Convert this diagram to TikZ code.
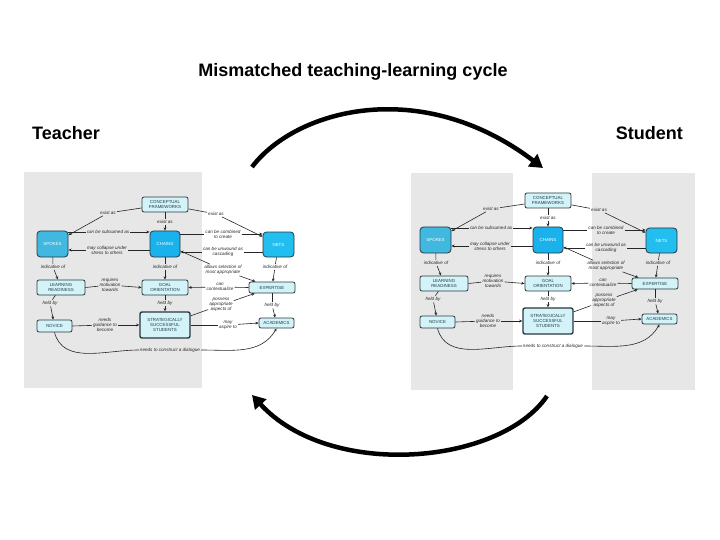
\documentclass[tikz,border=0pt]{standalone}
\usepackage{fontspec}
\setmainfont{Liberation Sans}
\usetikzlibrary{arrows.meta}
\definecolor{bggrey}{RGB}{231,231,231}
\definecolor{pale}{RGB}{212,243,248}
\definecolor{spk}{RGB}{64,184,224}
\definecolor{chn}{RGB}{26,178,236}
\definecolor{nts}{RGB}{34,190,240}
\definecolor{bord}{RGB}{40,56,64}
\definecolor{ntext}{RGB}{30,60,75}
\newcommand{\nfont}{\fontsize{4.4}{4.9}\selectfont}
\newcommand{\lfont}{\fontsize{4.6}{5.0}\selectfont\itshape}
\tikzset{
 concept/.style={draw=bord, line width=0.8pt, rounded corners=2pt, fill=pale, text=ntext, font=\nfont, align=center, inner sep=0pt},
 hub/.style={concept, rounded corners=3.5pt, text=white},
 lbl/.style={font=\lfont, align=center, inner sep=1pt, text=black!85},
 link/.style={line width=0.6pt, draw=black!85},
 larr/.style={link, -{Stealth[length=3.2pt,width=2.8pt]}},
 bigarc/.style={line width=4.5pt, -{Triangle[length=13pt,width=15pt]}},
 heading/.style={font=\fontsize{18}{21}\selectfont\bfseries, inner sep=0pt}
}
\newcommand{\conceptmap}[3]{%
\begin{scope}[shift={(#2,#3)}]
 \node[concept, minimum width=46pt, minimum height=15pt] (#1cf) at (165,204.5) {CONCEPTUAL\\FRAMEWORKS};
 \node[hub, fill=spk, minimum width=31pt, minimum height=26pt] (#1sp) at (52.5,244) {SPOKES};
 \node[hub, fill=chn, minimum width=30pt, minimum height=26pt] (#1ch) at (165,244) {CHAINS};
 \node[hub, fill=nts, minimum width=31pt, minimum height=25pt] (#1nt) at (278.5,244.5) {NETS};
 \node[concept, minimum width=48pt, minimum height=15pt] (#1lr) at (61,287.5) {LEARNING\\READINESS};
 \node[concept, minimum width=46pt, minimum height=15pt] (#1go) at (165,287.5) {GOAL\\ORIENTATION};
 \node[concept, minimum width=46pt, minimum height=11pt] (#1ex) at (272,287.5) {EXPERTISE};
 \node[concept, minimum width=35pt, minimum height=12pt] (#1nv) at (54.5,326) {NOVICE};
 \node[concept, line width=1.4pt, minimum width=50pt, minimum height=26pt] (#1ss) at (165,325) {STRATEGICALLY\\SUCCESSFUL\\STUDENTS};
 \node[concept, minimum width=35pt, minimum height=10pt] (#1wk) at (276.5,323) {ACADEMICS};
 \node[lbl] (#1l1) at (108,213) {exist as};
 \node[lbl] (#1l2) at (165,222) {exist as};
 \node[lbl] (#1l3) at (216,214) {exist as};
 \node[lbl] (#1l4) at (108,232) {can be subsumed as};
 \node[lbl] (#1l5) at (107,250) {may collapse under\\stress to others};
 \node[lbl] (#1l6) at (223,234) {can be combined\\to create};
 \node[lbl] (#1l7) at (223,252) {can be unwound as\\cascading};
 \node[lbl] (#1l8) at (223,270) {allows selection of\\most appropriate};
 \node[lbl] (#1l9) at (53,267) {indicative of};
 \node[lbl] (#1l10) at (165,267) {indicative of};
 \node[lbl] (#1l11) at (275,267) {indicative of};
 \node[lbl] (#1l12) at (110,285) {requires\\motivation\\towards};
 \node[lbl] (#1l13) at (220,287) {can\\contextualize};
 \node[lbl] (#1l14) at (221,305) {possess\\appropriate\\aspects of};
 \node[lbl] (#1l15) at (50,303) {held by};
 \node[lbl] (#1l16) at (165,303) {held by};
 \node[lbl] (#1l17) at (272,305) {held by};
 \node[lbl] (#1l18) at (105,325) {needs\\guidance to\\become};
 \node[lbl] (#1l19) at (228,325) {may\\aspire to};
 \node[lbl] (#1l20) at (170,350) {needs to construct a dialogue};
 \draw[link] (#1cf) -- (#1l1); \draw[larr] (#1l1) -- (#1sp);
 \draw[link] (#1cf) -- (#1l2); \draw[larr] (#1l2) -- (#1ch);
 \draw[link] (#1cf) -- (#1l3); \draw[larr] (#1l3) -- (#1nt);
 \draw[link] (#1sp.east |- #1l4) -- (#1l4); \draw[larr] (#1l4) -- (#1ch.west |- #1l4);
 \draw[link] (#1ch.west |- #1l5) -- (#1l5); \draw[larr] (#1l5) -- (#1sp.east |- #1l5);
 \draw[link] (#1ch.east |- #1l6) -- (#1l6); \draw[larr] (#1l6) -- (#1nt.west |- #1l6);
 \draw[link] (#1nt.west |- #1l7) -- (#1l7); \draw[larr] (#1l7) -- (#1ch.east |- #1l7);
 \draw[link] (#1ch) -- (#1l8); \draw[larr] (#1l8) -- (#1ex);
 \draw[link] (#1sp) -- (#1l9); \draw[larr] (#1l9) -- (#1lr);
 \draw[link] (#1ch) -- (#1l10); \draw[larr] (#1l10) -- (#1go);
 \draw[link] (#1nt) -- (#1l11); \draw[larr] (#1l11) -- (#1ex);
 \draw[link] (#1lr.east) -- (#1l12); \draw[larr] (#1l12) -- (#1go.west);
 \draw[link] (#1ex.west) -- (#1l13); \draw[larr] (#1l13) -- (#1go.east);
 \draw[link] (#1ss) -- (#1l14); \draw[larr] (#1l14) -- (#1ex);
 \draw[link] (#1lr) -- (#1l15); \draw[larr] (#1l15) -- (#1nv);
 \draw[link] (#1go) -- (#1l16); \draw[larr] (#1l16) -- (#1ss);
 \draw[link] (#1ex) -- (#1l17); \draw[larr] (#1l17) -- (#1wk);
 \draw[link] (#1nv.east) -- (#1l18); \draw[larr] (#1l18) -- (#1ss.west);
 \draw[link] (#1ss.east) -- (#1l19); \draw[larr] (#1l19) -- (#1wk.west);
 \draw[link] (#1nv.south) to[out=-75,in=180] (#1l20.west);
 \draw[larr] (#1l20.east) to[out=0,in=-120] (#1wk.south);
\end{scope}}
\begin{document}
\begin{tikzpicture}[x=1pt,y=-1pt]
 \useasboundingbox (0,0) rectangle (720,540);
 \fill[bggrey] (24,172) rectangle (202,388);
 \fill[bggrey] (411,173) rectangle (513,390);
 \fill[bggrey] (592,173) rectangle (695,390);
 \node[heading, anchor=base] (title) at (353,77) {Mismatched teaching-learning cycle};
 \node[heading, anchor=base west] (teacher) at (32,140) {Teacher};
 \node[heading, anchor=base east] (student) at (683,140) {Student};
 \conceptmap{L}{0}{0}
 \conceptmap{R}{383}{-4}
 \coordinate (a1) at (252,167);
 \coordinate (a2) at (543,168);
 \coordinate (b1) at (547,396);
 \coordinate (b2) at (252,395);
 \draw[bigarc] (a1) .. controls (295,110) and (420,75) .. (a2);
 \draw[bigarc] (b1) .. controls (500,465) and (330,480) .. (b2);
\end{tikzpicture}
\end{document}
